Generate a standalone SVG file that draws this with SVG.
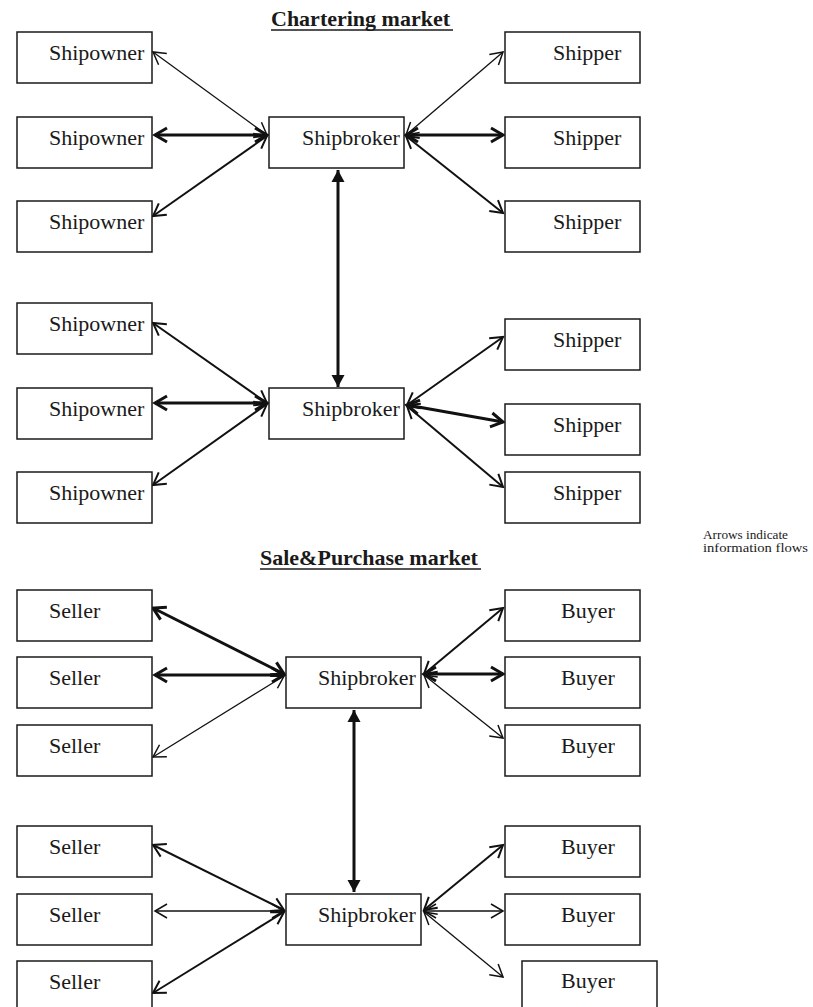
<svg xmlns="http://www.w3.org/2000/svg" width="813" height="1007" viewBox="0 0 813 1007">
  <style>
    .box { fill: #fff; stroke: #1a1a1a; stroke-width: 1.5; }
    .lbl { font-family: "Liberation Serif", "Times New Roman", serif; font-size: 22px; fill: #1a1a1a; }
    .ttl { font-family: "Liberation Serif", "Times New Roman", serif; font-size: 22px; font-weight: bold; fill: #1a1a1a; }
    .note { font-family: "Liberation Serif", "Times New Roman", serif; font-size: 13.5px; fill: #1a1a1a; }
    .ul { stroke: #1a1a1a; stroke-width: 1.5; }
    .c { fill: none; stroke: #111; stroke-linecap: butt; }
    .w1 { stroke-width: 1.3; marker-start: url(#openThin); marker-end: url(#openThin); }
    .w2 { stroke-width: 2; marker-start: url(#openMid); marker-end: url(#openMid); }
    .w3 { stroke-width: 3; marker-start: url(#openThick); marker-end: url(#openThick); }
    .v { stroke-width: 3; marker-start: url(#solid); marker-end: url(#solid); }
  </style>
  <defs>
    <marker id="openThin" markerUnits="userSpaceOnUse" markerWidth="20" markerHeight="20" refX="0" refY="0" orient="auto-start-reverse" overflow="visible">
      <path d="M -12 -7 L 0 0 L -12 7" fill="none" stroke="#111" stroke-width="1.5"/>
    </marker>
    <marker id="openMid" markerUnits="userSpaceOnUse" markerWidth="20" markerHeight="20" refX="0" refY="0" orient="auto-start-reverse" overflow="visible">
      <path d="M -12 -7 L 0 0 L -12 7" fill="none" stroke="#111" stroke-width="2"/>
    </marker>
    <marker id="openThick" markerUnits="userSpaceOnUse" markerWidth="20" markerHeight="20" refX="0" refY="0" orient="auto-start-reverse" overflow="visible">
      <path d="M -12 -7 L 0 0 L -12 7" fill="none" stroke="#111" stroke-width="3"/>
    </marker>
    <marker id="solid" markerUnits="userSpaceOnUse" markerWidth="20" markerHeight="20" refX="0" refY="0" orient="auto-start-reverse" overflow="visible">
      <path d="M -12 -6.5 L 0 0 L -12 6.5 Z" fill="#111" stroke="none"/>
    </marker>
  </defs>

  <rect width="813" height="1007" fill="#fff"/>

  <!-- titles and note -->
  <g id="title-chartering">
    <text class="ttl" x="271" y="26">Chartering market</text>
    <line class="ul" x1="271" y1="30" x2="453" y2="30"/>
  </g>
  <g id="title-snp">
    <text class="ttl" x="260" y="565">Sale&amp;Purchase market</text>
    <line class="ul" x1="260" y1="569" x2="481" y2="569"/>
  </g>
  <g id="note">
    <text class="note" x="703" y="539" textLength="85" lengthAdjust="spacingAndGlyphs">Arrows indicate</text>
    <text class="note" x="703" y="552" textLength="105" lengthAdjust="spacingAndGlyphs">information flows</text>
  </g>

  <!-- connectors -->
  <g id="connectors">
    <!-- chartering, upper broker -->
    <line class="c w1" x1="153" y1="52" x2="267" y2="135"/>
    <line class="c w3" x1="155" y1="135" x2="267" y2="135"/>
    <line class="c w2" x1="153" y1="216" x2="267" y2="136"/>
    <line class="c w1" x1="406" y1="135" x2="503" y2="52"/>
    <line class="c w3" x1="406" y1="135" x2="503" y2="135"/>
    <line class="c w2" x1="406" y1="136" x2="503" y2="213"/>
    <!-- chartering, broker to broker -->
    <line class="c v" x1="338" y1="170" x2="338" y2="387"/>
    <!-- chartering, lower broker -->
    <line class="c w2" x1="153" y1="323" x2="267" y2="403"/>
    <line class="c w3" x1="155" y1="403" x2="267" y2="403"/>
    <line class="c w2" x1="153" y1="485" x2="267" y2="404"/>
    <line class="c w2" x1="407" y1="405" x2="503" y2="337"/>
    <line class="c w3" x1="407" y1="405" x2="503" y2="422"/>
    <line class="c w2" x1="407" y1="406" x2="503" y2="487"/>
    <!-- sale & purchase, upper broker -->
    <line class="c w3" x1="153" y1="608" x2="284" y2="674"/>
    <line class="c w3" x1="155" y1="675" x2="284" y2="675"/>
    <line class="c w1" x1="153" y1="757" x2="284" y2="676"/>
    <line class="c w2" x1="424" y1="674" x2="503" y2="608"/>
    <line class="c w3" x1="424" y1="674" x2="503" y2="674"/>
    <line class="c w1" x1="424" y1="675" x2="503" y2="738"/>
    <!-- sale & purchase, broker to broker -->
    <line class="c v" x1="354" y1="710" x2="354" y2="892"/>
    <!-- sale & purchase, lower broker -->
    <line class="c w2" x1="153" y1="845" x2="284" y2="910"/>
    <line class="c w1" x1="155" y1="911" x2="284" y2="911"/>
    <line class="c w2" x1="153" y1="993" x2="284" y2="912"/>
    <line class="c w2" x1="424" y1="910" x2="503" y2="845"/>
    <line class="c w1" x1="424" y1="911" x2="503" y2="911"/>
    <line class="c w1" x1="424" y1="912" x2="503" y2="977"/>
  </g>

  <!-- chartering market nodes -->
  <g id="shipowner-1"><rect class="box" x="17" y="32" width="135" height="51"/><text class="lbl" x="49" y="60">Shipowner</text></g>
  <g id="shipowner-2"><rect class="box" x="17" y="117" width="135" height="51"/><text class="lbl" x="49" y="145">Shipowner</text></g>
  <g id="shipowner-3"><rect class="box" x="17" y="201" width="135" height="51"/><text class="lbl" x="49" y="229">Shipowner</text></g>
  <g id="shipowner-4"><rect class="box" x="17" y="303" width="135" height="51"/><text class="lbl" x="49" y="331">Shipowner</text></g>
  <g id="shipowner-5"><rect class="box" x="17" y="388" width="135" height="51"/><text class="lbl" x="49" y="416">Shipowner</text></g>
  <g id="shipowner-6"><rect class="box" x="17" y="472" width="135" height="51"/><text class="lbl" x="49" y="500">Shipowner</text></g>

  <g id="shipbroker-c1"><rect class="box" x="269" y="117" width="135" height="51"/><text class="lbl" x="302" y="145">Shipbroker</text></g>
  <g id="shipbroker-c2"><rect class="box" x="269" y="388" width="135" height="51"/><text class="lbl" x="302" y="416">Shipbroker</text></g>

  <g id="shipper-1"><rect class="box" x="505" y="32" width="135" height="51"/><text class="lbl" x="553" y="60">Shipper</text></g>
  <g id="shipper-2"><rect class="box" x="505" y="117" width="135" height="51"/><text class="lbl" x="553" y="145">Shipper</text></g>
  <g id="shipper-3"><rect class="box" x="505" y="201" width="135" height="51"/><text class="lbl" x="553" y="229">Shipper</text></g>
  <g id="shipper-4"><rect class="box" x="505" y="319" width="135" height="51"/><text class="lbl" x="553" y="347">Shipper</text></g>
  <g id="shipper-5"><rect class="box" x="505" y="404" width="135" height="51"/><text class="lbl" x="553" y="432">Shipper</text></g>
  <g id="shipper-6"><rect class="box" x="505" y="472" width="135" height="51"/><text class="lbl" x="553" y="500">Shipper</text></g>

  <!-- sale & purchase market nodes -->
  <g id="seller-1"><rect class="box" x="17" y="590" width="135" height="51"/><text class="lbl" x="49" y="618">Seller</text></g>
  <g id="seller-2"><rect class="box" x="17" y="657" width="135" height="51"/><text class="lbl" x="49" y="685">Seller</text></g>
  <g id="seller-3"><rect class="box" x="17" y="725" width="135" height="51"/><text class="lbl" x="49" y="753">Seller</text></g>
  <g id="seller-4"><rect class="box" x="17" y="826" width="135" height="51"/><text class="lbl" x="49" y="854">Seller</text></g>
  <g id="seller-5"><rect class="box" x="17" y="894" width="135" height="51"/><text class="lbl" x="49" y="922">Seller</text></g>
  <g id="seller-6"><rect class="box" x="17" y="961" width="135" height="60"/><text class="lbl" x="49" y="989">Seller</text></g>

  <g id="shipbroker-s1"><rect class="box" x="286" y="657" width="135" height="51"/><text class="lbl" x="318" y="685">Shipbroker</text></g>
  <g id="shipbroker-s2"><rect class="box" x="286" y="894" width="135" height="51"/><text class="lbl" x="318" y="922">Shipbroker</text></g>

  <g id="buyer-1"><rect class="box" x="505" y="590" width="135" height="51"/><text class="lbl" x="561" y="618">Buyer</text></g>
  <g id="buyer-2"><rect class="box" x="505" y="657" width="135" height="51"/><text class="lbl" x="561" y="685">Buyer</text></g>
  <g id="buyer-3"><rect class="box" x="505" y="725" width="135" height="51"/><text class="lbl" x="561" y="753">Buyer</text></g>
  <g id="buyer-4"><rect class="box" x="505" y="826" width="135" height="51"/><text class="lbl" x="561" y="854">Buyer</text></g>
  <g id="buyer-5"><rect class="box" x="505" y="894" width="135" height="51"/><text class="lbl" x="561" y="922">Buyer</text></g>
  <g id="buyer-6"><rect class="box" x="522" y="961" width="135" height="60"/><text class="lbl" x="561" y="988">Buyer</text></g>
</svg>
